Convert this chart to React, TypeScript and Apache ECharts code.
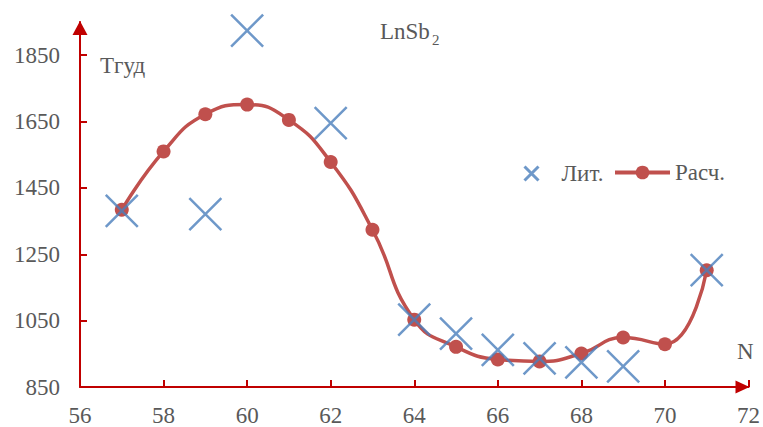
import React, { useEffect, useRef } from 'react';
import * as echarts from 'echarts';

// Literature values (Лит.)
const nLit = [57, 59, 60, 62, 64, 65, 66, 67, 68, 69, 71];
const tLit = [1381, 1371, 1924, 1645, 1053, 1011, 962, 936, 924, 912, 1202];

// Calculated values (Расч.)
const nCalc = [57, 58, 59, 60, 61, 62, 63, 64, 65, 66, 67, 68, 69, 70, 71];
const tCalc = [1384, 1560, 1672, 1701, 1655, 1528, 1324, 1053, 971, 933, 927, 951, 999, 979, 1202];

// Axis tick values
const yTicks = [850, 1050, 1250, 1450, 1650, 1850];
const xTicks = [56, 58, 60, 62, 64, 66, 68, 70, 72];

const AXIS_RED = '#C00000';
const LIT_BLUE = '#4A7EBB';
const CALC_RED = '#C0504D';
const TEXT_GREY = '#595959';
const FONT = 'Liberation Serif';
const FS = 23;
const CROSS = 'path://M0,0L10,10M10,0L0,10';

export default function App() {
  const ref = useRef<HTMLDivElement>(null);

  useEffect(() => {
    if (!ref.current) return;
    const chart = echarts.init(ref.current, undefined, { renderer: 'svg' });

    const axisLine = (size: number[]) => ({
      show: true,
      onZero: false,
      lineStyle: { color: AXIS_RED, width: 2 },
      symbol: ['none', 'triangle'],
      symbolSize: size,
      symbolOffset: [0, -6],
    });
    const label = { color: TEXT_GREY, fontFamily: FONT, fontSize: FS };
    const textAt = (text: string, x: number, y: number, fontSize = FS) => ({
      type: 'text',
      x,
      y,
      style: { text, fontFamily: FONT, fontSize, fill: TEXT_GREY, verticalAlign: 'middle' },
    });

    chart.setOption({
      animation: false,
      backgroundColor: '#ffffff',
      textStyle: { fontFamily: FONT },
      grid: { left: 80, right: 13, top: 22, bottom: 36.3 },
      xAxis: {
        type: 'value',
        min: xTicks[0],
        max: xTicks[xTicks.length - 1],
        interval: 2,
        axisLine: axisLine([13, 14]),
        axisTick: { inside: true, length: 7, lineStyle: { color: AXIS_RED, width: 2 } },
        axisLabel: { ...label, margin: 17, formatter: (v: number) => String(v) },
        splitLine: { show: false },
      },
      yAxis: {
        type: 'value',
        min: 850,
        max: 1950,
        interval: 200,
        axisLine: axisLine([15, 14]),
        axisTick: {
          inside: true,
          length: 7,
          customValues: yTicks,
          lineStyle: { color: AXIS_RED, width: 2 },
        },
        axisLabel: { ...label, margin: 20, customValues: yTicks, formatter: (v: number) => String(v) },
        splitLine: { show: false },
      },
      legend: [
        {
          data: ['Лит.'],
          left: 523,
          top: 162,
          padding: 0,
          itemWidth: 50,
          itemHeight: 14,
          icon: CROSS,
          selectedMode: false,
          itemStyle: { color: LIT_BLUE, borderColor: LIT_BLUE, borderWidth: 3 },
          textStyle: label,
        },
        {
          data: ['Расч.'],
          left: 613,
          top: 161,
          padding: 0,
          itemWidth: 55,
          itemHeight: 17,
          selectedMode: false,
          lineStyle: { width: 4 },
          textStyle: label,
        },
      ],
      graphic: [
        textAt('LnSb', 380, 31),
        textAt('2', 432, 40, 15),
        textAt('Тгуд', 100, 65),
        textAt('N', 737, 351),
      ],
      series: [
        {
          type: 'line',
          name: 'Расч.',
          data: nCalc.map((n, i) => [n, tCalc[i]]),
          smooth: 0.5,
          symbol: 'circle',
          symbolSize: 14,
          lineStyle: { color: CALC_RED, width: 3.5 },
          itemStyle: { color: CALC_RED },
          z: 2,
        },
        {
          type: 'scatter',
          name: 'Лит.',
          data: nLit.map((n, i) => [n, tLit[i]]),
          symbol: CROSS,
          symbolSize: 32,
          itemStyle: { color: LIT_BLUE, borderColor: LIT_BLUE, borderWidth: 2.5 },
          z: 3,
        },
      ],
    });

    return () => chart.dispose();
  }, []);

  return (
    <div
      ref={ref}
      style={{ position: 'fixed', left: 0, top: 0, width: 763, height: 427, background: '#fff' }}
    />
  );
}
